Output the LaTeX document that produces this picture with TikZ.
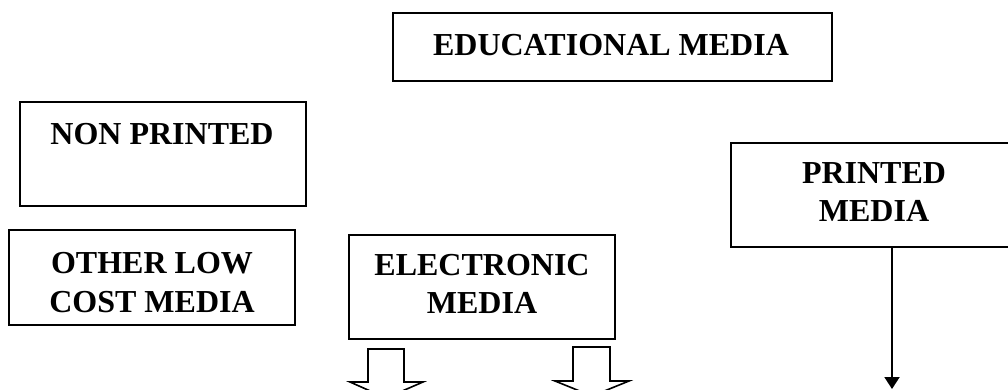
\documentclass[tikz,border=0pt]{standalone}
\usepackage{fontspec}
\setmainfont{Liberation Serif}
\usetikzlibrary{arrows.meta}
\begin{document}
\begin{tikzpicture}[x=1pt,y=-1pt,
  box/.style={draw=black, line width=1.6pt, rectangle, inner sep=0pt, outer sep=0pt},
  lbl/.style={anchor=base, inner sep=0pt, font=\fontsize{32}{37}\selectfont\bfseries},
  blockarrow/.style={draw=black, line width=1.6pt, line join=miter, fill=white},
  conn/.style={draw=black, line width=2pt, -{Triangle[length=12pt,width=15pt]}}]
\clip (0,0) rectangle (1008,389);
\fill[white] (0,0) rectangle (1008,389);
% boxes
\node[box, minimum width=439pt, minimum height=68pt] (edu) at (612.5,47) {};
\node[box, minimum width=286pt, minimum height=104pt] (nonp) at (163,154) {};
\node[box, minimum width=286pt, minimum height=95pt] (other) at (152,277.5) {};
\node[box, minimum width=266pt, minimum height=104pt] (elec) at (482,287) {};
\node[box, minimum width=286pt, minimum height=104pt] (printed) at (874,195) {};
% labels
\node[lbl] (edut) at (611,55) {EDUCATIONAL MEDIA};
\node[lbl] (nonpt) at (162,144) {NON PRINTED};
\node[lbl] (other1) at (152,273) {OTHER LOW};
\node[lbl] (other2) at (152,312) {COST MEDIA};
\node[lbl] (elec1) at (482,275) {ELECTRONIC};
\node[lbl] (elec2) at (482,313) {MEDIA};
\node[lbl] (print1) at (874,183) {PRINTED};
\node[lbl] (print2) at (874,221) {MEDIA};
% block arrows below electronic media
\draw[blockarrow] (368,349) -- (404,349) -- (404,382) -- (423,382) -- (386,398)
  -- (350,382) -- (368,382) -- cycle;
\draw[blockarrow] (573,347) -- (610,347) -- (610,381) -- (629,381) -- (592,396)
  -- (555,381) -- (573,381) -- cycle;
% arrow from printed media
\coordinate (pend) at (892,389);
\draw[conn] (printed.south -| pend) -- (pend);
\end{tikzpicture}
\end{document}
